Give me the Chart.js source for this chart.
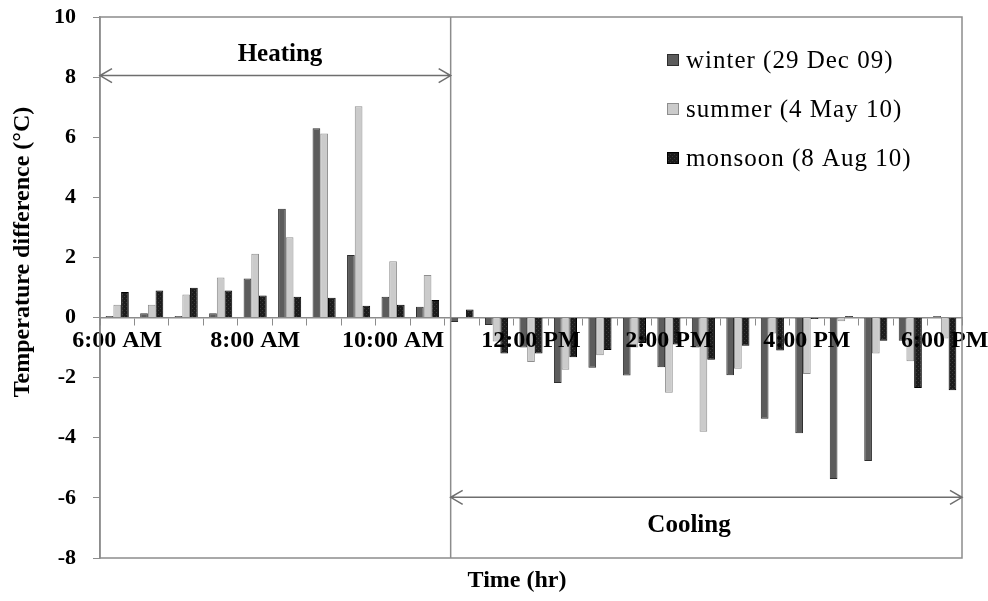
<!DOCTYPE html>
<html>
<head>
<meta charset="utf-8">
<script src="https://cdn.jsdelivr.net/npm/chart.js@4.4.1/dist/chart.umd.min.js"></script>
<style>
  html, body { margin: 0; padding: 0; background: #fff; }
  #wrap { width: 988px; height: 601px; }
</style>
</head>
<body>
<div id="wrap"><canvas id="chart" width="988" height="601"></canvas></div>
<script>
// half-hourly readings, 6:00 AM .. 6:00 PM
const timeLabels = [
  '6:00 AM', '6:30 AM', '7:00 AM', '7:30 AM', '8:00 AM', '8:30 AM', '9:00 AM', '9:30 AM',
  '10:00 AM', '10:30 AM', '11:00 AM', '11:30 AM', '12:00 PM', '12:30 PM', '1:00 PM', '1:30 PM',
  '2:00 PM', '2:30 PM', '3:00 PM', '3:30 PM', '4:00 PM', '4:30 PM', '5:00 PM', '5:30 PM', '6:00 PM'
];
const winter = [0.05, 0.14, 0.05, 0.14, 1.3, 3.62, 6.3, 2.08, 0.69, 0.36, -0.15, -0.25, -1.0,
  -2.18, -1.67, -1.93, -1.65, -1.0, -1.92, -3.37, -3.85, -5.37, -4.77, -0.77, 0.05];
const summer = [0.43, 0.43, 0.77, 1.33, 2.12, 2.67, 6.12, 7.03, 1.87, 1.42, 0.0, -0.8, -1.48,
  -1.74, -1.25, -1.0, -2.5, -3.8, -1.7, -0.53, -1.88, -0.12, -1.2, -1.45, -0.7];
const monsoon = [0.85, 0.9, 0.99, 0.9, 0.73, 0.69, 0.66, 0.39, 0.43, 0.58, 0.27, -1.2, -1.2,
  -1.32, -1.08, -0.85, -0.9, -1.4, -0.94, -1.1, -0.05, 0.05, -0.77, -2.34, -2.42];
const seriesNames = ['winter (29 Dec 09)', 'summer (4 May 10)', 'monsoon (8 Aug 10)'];
const yTicks = { min: -8, max: 10, step: 2 };

const SERIF = '"Liberation Serif", "Times New Roman", serif';
const GREY = '#8c8c8c';

// speckled fill for the monsoon bars
const speckle = (() => {
  const c = document.createElement('canvas');
  c.width = 4; c.height = 4;
  const g = c.getContext('2d');
  g.fillStyle = '#1c1c1c';
  g.fillRect(0, 0, 4, 4);
  g.fillStyle = '#3a3a3a';
  g.fillRect(0, 0, 1, 1);
  g.fillRect(2, 2, 1, 1);
  return g.createPattern(c, 'repeat');
})();

/** draws the frame, the heating/cooling marks, titles and legend */
const decorations = {
  id: 'decorations',
  afterDraw(chart) {
    const { ctx, chartArea: a, scales: { x, y } } = chart;
    ctx.save();

    // frame
    ctx.strokeStyle = GREY;
    ctx.lineWidth = 1.5;
    ctx.strokeRect(a.left, a.top, a.right - a.left, a.bottom - a.top);

    // heating / cooling divider
    const divX = x.getPixelForValue(9.67);
    ctx.beginPath();
    ctx.moveTo(divX, a.top);
    ctx.lineTo(divX, a.bottom);
    ctx.stroke();

    const arrow = (x1, x2, yy) => {
      ctx.beginPath();
      ctx.moveTo(x1, yy); ctx.lineTo(x2, yy);
      ctx.moveTo(x1 + 12, yy - 7); ctx.lineTo(x1, yy); ctx.lineTo(x1 + 12, yy + 7);
      ctx.moveTo(x2 - 12, yy - 7); ctx.lineTo(x2, yy); ctx.lineTo(x2 - 12, yy + 7);
      ctx.stroke();
    };
    ctx.strokeStyle = '#6e6e6e';
    ctx.lineWidth = 1.5;
    arrow(a.left, divX, y.getPixelForValue(8.05));
    arrow(divX, a.right, y.getPixelForValue(-5.98));

    ctx.fillStyle = '#000';
    ctx.textAlign = 'center';
    ctx.textBaseline = 'middle';
    ctx.font = 'bold 25px ' + SERIF;
    ctx.fillText('Heating', 280, 55);
    ctx.fillText('Cooling', 689, 526);
    ctx.font = 'bold 24px ' + SERIF;
    ctx.fillText('Time (hr)', 517, 581);

    // y title
    ctx.save();
    ctx.translate(23, 252);
    ctx.rotate(-Math.PI / 2);
    ctx.font = 'bold 24px ' + SERIF;
    ctx.fillText('Temperature difference (\u00B0C)', 0, 0);
    ctx.restore();

    // legend
    ctx.textAlign = 'left';
    ctx.font = '25px ' + SERIF;
    ctx.letterSpacing = '1px';
    chart.data.datasets.forEach((ds, i) => {
      const cy = 60 + i * 49;
      ctx.fillStyle = ds.backgroundColor;
      ctx.fillRect(667, cy - 6, 12, 12);
      ctx.strokeStyle = ds.borderColor;
      ctx.lineWidth = 1;
      ctx.strokeRect(667.5, cy - 5.5, 11, 11);
      ctx.fillStyle = '#000';
      ctx.fillText(ds.label, 686, cy + 1);
    });

    ctx.restore();
  },
};

new Chart(document.getElementById('chart'), {
  type: 'bar',
  data: {
    labels: timeLabels,
    datasets: [
      { label: seriesNames[0], data: winter, backgroundColor: '#5c5c5c', borderColor: '#2e2e2e', borderWidth: 1 },
      { label: seriesNames[1], data: summer, backgroundColor: '#cbcbcb', borderColor: '#8e8e8e', borderWidth: 1 },
      { label: seriesNames[2], data: monsoon, backgroundColor: speckle, borderColor: '#000', borderWidth: 1 },
    ],
  },
  options: {
    responsive: false,
    animation: false,
    layout: { padding: { top: 17, right: 26, bottom: 43, left: 0 } },
    datasets: { bar: { categoryPercentage: 0.67, barPercentage: 1.0 } },
    plugins: {
      legend: { display: false },
      tooltip: { enabled: false },
    },
    scales: {
      x: {
        position: { y: 0 },
        offset: true,
        afterFit: (scale) => { scale.paddingLeft = 0; scale.paddingRight = 0; },
        grid: { display: true, drawOnChartArea: false, offset: true, tickLength: 7, color: GREY },
        border: { display: true, color: GREY, width: 1.5 },
        ticks: {
          z: 1,
          autoSkip: false,
          maxRotation: 0,
          minRotation: 0,
          padding: 2,
          color: '#000',
          font: { family: SERIF, size: 24, weight: 'bold' },
          callback: (v, i) => (i % 4 === 0 ? timeLabels[i] : ''),
        },
      },
      y: {
        min: yTicks.min,
        max: yTicks.max,
        afterFit: (scale) => {
          scale.width = 100;
          scale.paddingTop = 12;
          scale.paddingBottom = 12;
        },
        grid: { display: true, drawOnChartArea: false, tickLength: 7, color: GREY },
        border: { display: true, color: GREY, width: 1.5 },
        ticks: {
          stepSize: yTicks.step,
          padding: 17,
          color: '#000',
          font: { family: SERIF, size: 22, weight: 'bold' },
        },
      },
    },
  },
  plugins: [decorations],
});
</script>
</body>
</html>
